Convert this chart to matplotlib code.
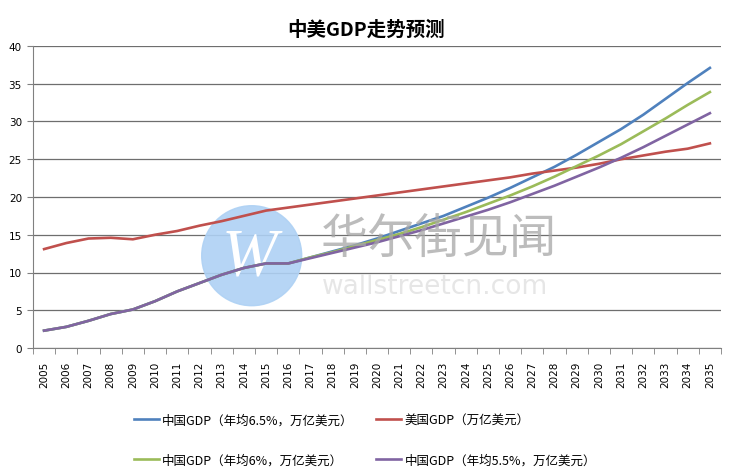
import numpy as np
import matplotlib
matplotlib.use("Agg")
import matplotlib.pyplot as plt
from matplotlib.patches import Circle

plt.rcParams['font.family'] = ['DejaVu Sans', 'Noto Sans CJK SC']

years = [str(y) for y in range(2005, 2036)]

# 中国GDP（年均6.5%）
cn_65 = [2.3, 2.8, 3.6, 4.5, 5.1, 6.2, 7.5, 8.6, 9.7, 10.6, 11.2, 11.2,
         12.0, 12.8, 13.6, 14.5, 15.5, 16.5, 17.5, 18.7, 19.9, 21.2, 22.6,
         24.0, 25.6, 27.3, 29.0, 30.9, 33.0, 35.1, 37.1]
# 美国GDP
us = [13.1, 13.9, 14.5, 14.6, 14.4, 15.0, 15.5, 16.2, 16.8, 17.5, 18.2, 18.6,
      19.0, 19.4, 19.8, 20.2, 20.6, 21.0, 21.4, 21.8, 22.2, 22.6, 23.1,
      23.5, 23.9, 24.4, 25.0, 25.5, 26.0, 26.4, 27.1]
# 中国GDP（年均6%）
cn_60 = [2.3, 2.8, 3.6, 4.5, 5.1, 6.2, 7.5, 8.6, 9.7, 10.6, 11.2, 11.2,
         12.0, 12.7, 13.5, 14.3, 15.1, 16.0, 17.0, 18.0, 19.1, 20.2, 21.4,
         22.7, 24.1, 25.5, 27.0, 28.7, 30.4, 32.2, 33.9]
# 中国GDP（年均5.5%）
cn_55 = [2.3, 2.8, 3.6, 4.5, 5.1, 6.2, 7.5, 8.6, 9.7, 10.6, 11.2, 11.2,
         11.9, 12.6, 13.3, 14.0, 14.8, 15.6, 16.5, 17.4, 18.3, 19.3, 20.4,
         21.5, 22.7, 23.9, 25.2, 26.6, 28.1, 29.6, 31.1]

labels = ["中国GDP（年均6.5%，万亿美元）", "美国GDP（万亿美元）",
          "中国GDP（年均6%，万亿美元）", "中国GDP（年均5.5%，万亿美元）"]
colors = ["#4F81BD", "#C0504D", "#9BBB59", "#8064A2"]

fig = plt.figure(figsize=(7.32, 4.77), dpi=100)
ax = fig.add_axes([33/732, 1-349/477, 688/732, 302/477])

x = np.arange(len(years))
lines = []
for vals, c, lab in zip([cn_65, us, cn_60, cn_55], colors, labels):
    l, = ax.plot(x, vals, color=c, lw=1.9, label=lab, zorder=4)
    lines.append(l)

ax.set_xlim(-0.5, len(years) - 0.5)
ax.set_ylim(0, 40)
ax.set_yticks(np.arange(0, 41, 5))
ax.set_xticks(x)
ax.set_xticklabels(years, rotation=90, fontsize=7.5)
ax.set_xticks(np.arange(-0.5, len(years), 1), minor=True)
ax.tick_params(axis='x', which='major', length=0, pad=9)
ax.tick_params(axis='x', which='minor', length=4, color='#808080')
ax.tick_params(axis='y', length=4, pad=4, labelsize=7.5, color='#808080')
ax.yaxis.grid(True, color='#6e6e6e', lw=0.9)
ax.set_axisbelow(True)
for s in ['top', 'right']:
    ax.spines[s].set_visible(False)
ax.spines['left'].set_color('#808080')
ax.spines['bottom'].set_color('#808080')

fig.text(0.5, 1-30/477, "中美GDP走势预测", ha='center', va='center',
         fontsize=14, fontweight='bold', family=['Noto Sans CJK SC'])

# watermark (under the data lines)
circ = Circle((251.7/100, (477-256.7)/100), 0.5, transform=fig.dpi_scale_trans,
              color='#aed1f4', alpha=0.9, zorder=2)
ax.add_artist(circ)
circ.set_clip_on(False)
ax.text(249/732, 1-258/477, "W", ha='center', va='center', fontsize=48,
        color='white', family='Liberation Serif', style='italic', zorder=3,
        transform=fig.transFigure)
fig.text(321/732, 1-240/477, "华尔街见闻", ha='left', va='center', fontsize=34,
         color='#a6a6a6', alpha=0.75, family=['Noto Sans CJK SC'], zorder=5)
fig.text(322/732, 1-287/477, "wallstreetcn.com", ha='left', va='center', fontsize=19,
         color='#e2e2e2', alpha=0.85, zorder=5)

order = [0, 2, 1, 3]
fig.legend([lines[i] for i in order], [labels[i] for i in order], ncol=2,
           loc='center', bbox_to_anchor=(365/732, 1-441/477), frameon=False,
           handlelength=2.0, handletextpad=0.25, columnspacing=1.8,
           labelspacing=2.2, prop={'family': ['Noto Sans CJK SC'], 'size': 9})

fig.savefig("out.png", dpi=100)
